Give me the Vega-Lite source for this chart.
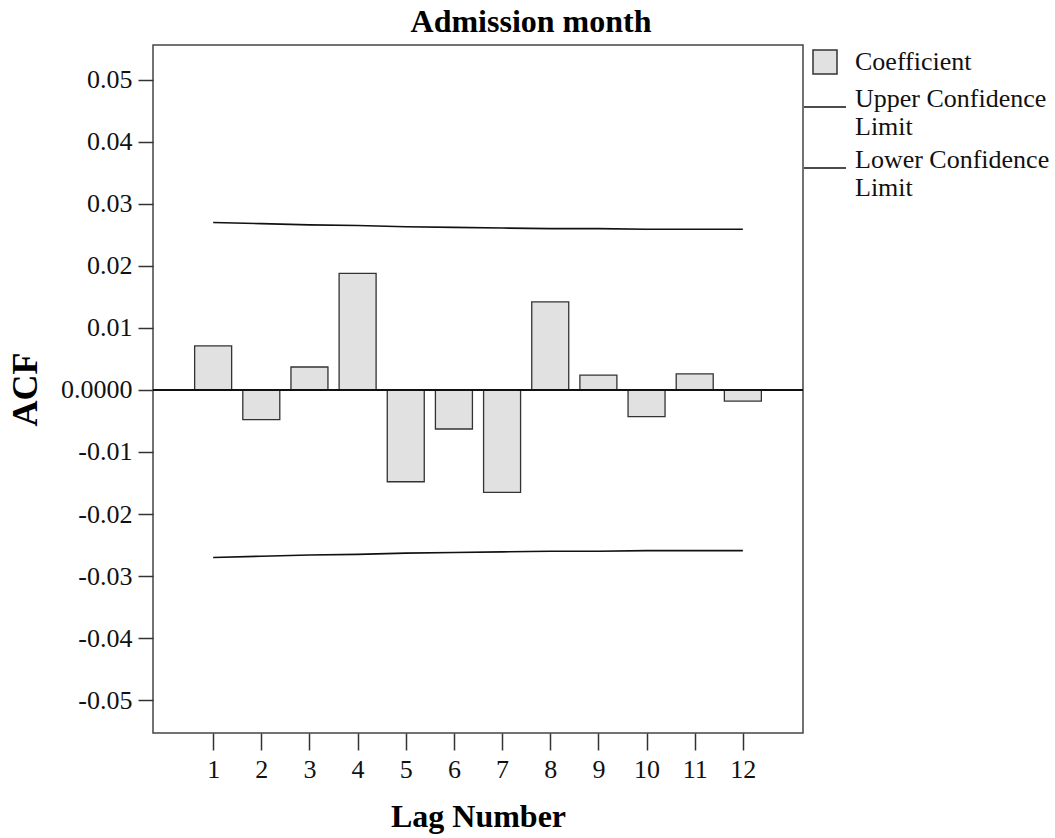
{
  "$schema": "https://vega.github.io/schema/vega-lite/v6.json",
  "width": 650,
  "height": 688,
  "autosize": "none",
  "padding": {"left": 153, "top": 45, "right": 252, "bottom": 105},
  "background": "white",
  "config": {
    "font": "Liberation Serif",
    "view": {"stroke": "#444", "strokeWidth": 1.5},
    "axis": {"domain": false, "grid": false, "tickColor": "#333", "tickWidth": 1.5, "labelColor": "#111", "titleColor": "#000"},
    "legend": {"labelFont": "Liberation Serif", "labelFontSize": 26, "labelColor": "#111", "labelLimit": 400, "padding": 0, "title": null}
  },
  "title": {
    "text": "Admission month",
    "fontSize": 32,
    "fontWeight": "bold",
    "font": "Liberation Serif",
    "anchor": "middle",
    "frame": "group",
    "dx": 53,
    "offset": 6,
    "color": "#000"
  },
  "data": {
    "values": [
      {"lag": 1, "acf": 0.0071, "upper": 0.0270, "lower": -0.0270},
      {"lag": 2, "acf": -0.0048, "upper": 0.0268, "lower": -0.0268},
      {"lag": 3, "acf": 0.0037, "upper": 0.0266, "lower": -0.0266},
      {"lag": 4, "acf": 0.0188, "upper": 0.0265, "lower": -0.0265},
      {"lag": 5, "acf": -0.0148, "upper": 0.0263, "lower": -0.0263},
      {"lag": 6, "acf": -0.0063, "upper": 0.0262, "lower": -0.0262},
      {"lag": 7, "acf": -0.0165, "upper": 0.0261, "lower": -0.0261},
      {"lag": 8, "acf": 0.0142, "upper": 0.0260, "lower": -0.0260},
      {"lag": 9, "acf": 0.0024, "upper": 0.0260, "lower": -0.0260},
      {"lag": 10, "acf": -0.0043, "upper": 0.0259, "lower": -0.0259},
      {"lag": 11, "acf": 0.0026, "upper": 0.0259, "lower": -0.0259},
      {"lag": 12, "acf": -0.0018, "upper": 0.0259, "lower": -0.0259}
    ]
  },
  "encoding": {
    "x": {
      "field": "lag",
      "type": "quantitative",
      "scale": {"domain": [-0.145, 13.145], "nice": false, "zero": false},
      "axis": {
        "title": "Lag Number",
        "values": [1, 2, 3, 4, 5, 6, 7, 8, 9, 10, 11, 12],
        "format": "d",
        "tickSize": 17,
        "labelFontSize": 26,
        "labelPadding": 6,
        "titleFontSize": 32,
        "titleFontWeight": "bold",
        "titlePadding": 19
      }
    }
  },
  "layer": [
    {
      "mark": {"type": "bar", "size": 37, "stroke": "#333", "strokeWidth": 1.3},
      "encoding": {
        "y": {
          "field": "acf",
          "type": "quantitative",
          "scale": {"domain": [-0.0553, 0.0556], "nice": false, "zero": false},
          "axis": {
            "title": "ACF",
            "values": [-0.05, -0.04, -0.03, -0.02, -0.01, 0, 0.01, 0.02, 0.03, 0.04, 0.05],
            "labelExpr": "datum.value == 0 ? '0.0000' : (datum.value < 0 ? '-' + format(-datum.value, '.2f') : format(datum.value, '.2f'))",
            "tickSize": 15,
            "labelFontSize": 26,
            "labelPadding": 6,
            "titleFontSize": 36,
            "titleFontWeight": "bold",
            "titlePadding": 16
          }
        },
        "fill": {
          "datum": "Coefficient",
          "scale": {"domain": ["Coefficient"], "range": ["#e1e1e1"]},
          "legend": {
            "orient": "none",
            "legendX": 659,
            "legendY": 4,
            "symbolType": "square",
            "symbolSize": 576,
            "symbolStrokeColor": "#333",
            "symbolStrokeWidth": 1.5,
            "symbolFillColor": "#e1e1e1",
            "labelOffset": 17
          }
        }
      }
    },
    {
      "mark": {"type": "rule", "color": "#111", "strokeWidth": 1.5},
      "encoding": {"y": {"datum": 0}, "x": {"value": 0}, "x2": {"value": 650}}
    },
    {
      "mark": {"type": "line", "strokeWidth": 1.6},
      "encoding": {
        "y": {"field": "upper", "type": "quantitative"},
        "stroke": {
          "datum": "Upper Confidence Limit",
          "scale": {"domain": ["Upper Confidence Limit", "Lower Confidence Limit"], "range": ["#111111", "#111111"]},
          "legend": {
            "orient": "none",
            "legendX": 650,
            "legendY": 40,
            "symbolType": "stroke",
            "symbolSize": 1764,
            "symbolStrokeWidth": 1.6,
            "labelOffset": 8,
            "rowPadding": 6,
            "labelBaseline": "alphabetic",
            "labelExpr": "datum.value == 'Upper Confidence Limit' ? ['Upper Confidence', 'Limit'] : datum.value == 'Lower Confidence Limit' ? ['Lower Confidence', 'Limit'] : datum.label"
          }
        }
      }
    },
    {
      "mark": {"type": "line", "strokeWidth": 1.6},
      "encoding": {
        "y": {"field": "lower", "type": "quantitative"},
        "stroke": {"datum": "Lower Confidence Limit"}
      }
    }
  ]
}
